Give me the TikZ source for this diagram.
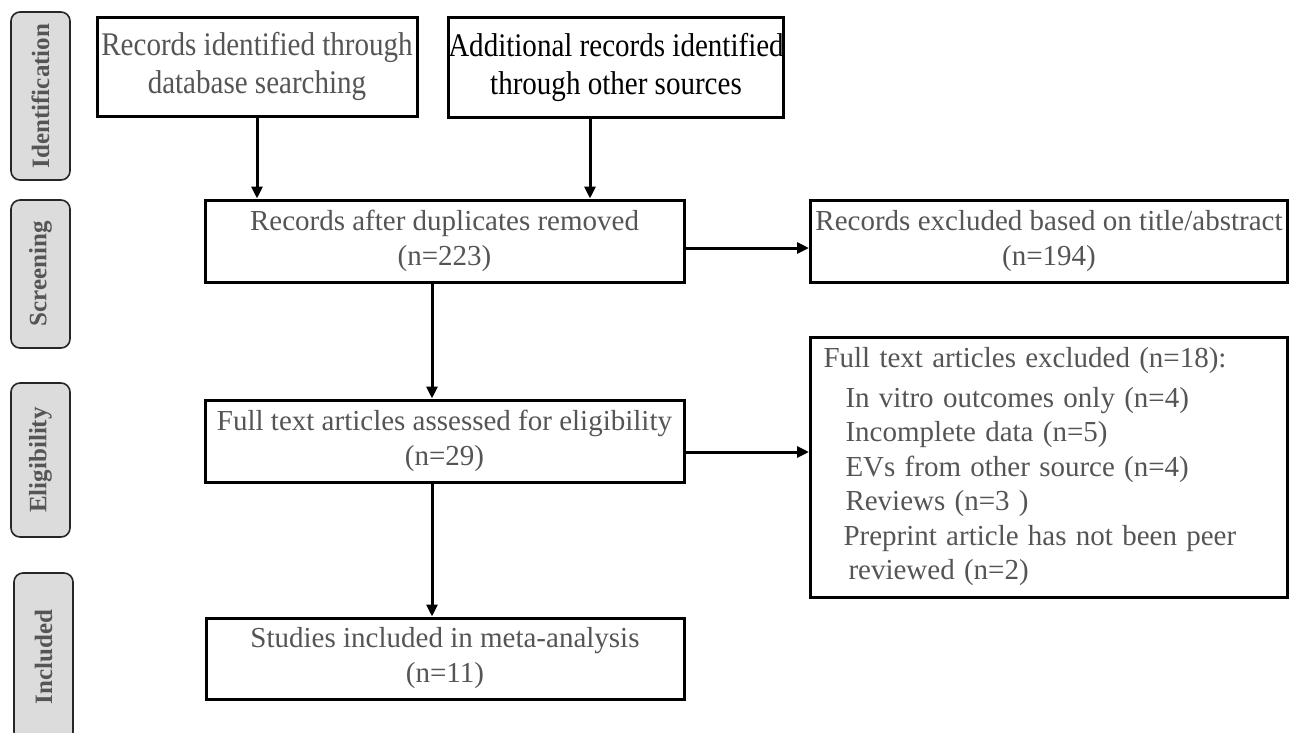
\documentclass[tikz,border=0pt]{standalone}
\usepackage{fontspec}
\setmainfont{Liberation Serif}
\newfontfamily\condfont[FakeStretch=0.88]{Liberation Serif}
\usetikzlibrary{arrows.meta}
\definecolor{txtgray}{HTML}{555555}
\definecolor{lblfill}{HTML}{DCDCDC}
\definecolor{lbltext}{HTML}{555555}
\tikzset{
  box/.style={draw=black, line width=3pt, rectangle, inner sep=0pt, align=center,
    font=\fontsize{29}{35}\selectfont, text=txtgray},
  topbox/.style={box, font=\condfont\fontsize{33}{38}\selectfont},
  lbl/.style={draw=black!85, line width=1.6pt, rounded corners=9pt, fill=lblfill, rotate=90,
    inner sep=0pt, font=\fontsize{25}{28}\selectfont\bfseries, text=lbltext},
  arr/.style={line width=3pt, -{Triangle[length=12pt,width=11pt]}},
}
\begin{document}
\begin{tikzpicture}[x=1pt,y=-1pt]
\useasboundingbox (0,0) rectangle (1290,732);
\fill[white] (0,0) rectangle (1290,732);
% side labels
\node[lbl, minimum width=168, minimum height=59] (lid) at (40.5,96) {Identification};
\node[lbl, minimum width=148, minimum height=59] (lsc) at (40.5,274) {Screening};
\node[lbl, minimum width=154, minimum height=59] (lel) at (40.5,460) {Eligibility};
\node[lbl, minimum width=168, minimum height=59] (lin) at (43.5,657) {Included};
% boxes
\node[topbox, minimum width=320, minimum height=99] (A) at (257,66.5) {Records identified through\\database searching};
\node[topbox, minimum width=332, minimum height=100, text=black] (B) at (616,67) {Additional records identified\\through other sources};
\node[box, minimum width=479, minimum height=82] (C) at (444.5,241) {Records after duplicates removed\\(n=223)};
\node[box, minimum width=477, minimum height=82] (D) at (1049,241) {Records excluded based on title/abstract\\(n=194)};
\node[box, minimum width=479, minimum height=82] (F) at (444.5,441) {Full text articles assessed for eligibility\\(n=29)};
\node[box, minimum width=477, minimum height=260, inner xsep=13pt, text width=451pt, align=left,
  font=\fontsize{29}{34.5}\selectfont] (E) at (1049,467)
  {\spaceskip=0.32em plus 0.1em\relax Full text articles excluded (n=18):\\[5pt]
   \hspace*{22pt}In vitro outcomes only (n=4)\\
   \hspace*{22pt}Incomplete data (n=5)\\
   \hspace*{22pt}EVs from other source (n=4)\\
   \hspace*{22pt}Reviews (n=3 )\\
   \hspace*{20pt}Preprint article has not been peer\\
   \hspace*{25pt}reviewed (n=2)};
\node[box, minimum width=478, minimum height=81] (G) at (445,658.5) {Studies included in meta-analysis\\(n=11)};
% connectors
\draw[arr] (A.south) -- (A.south |- C.north);
\draw[arr] ([xshift=-26pt]B.south) -- ([xshift=-26pt]B.south |- C.north);
\draw[arr] ([yshift=-7pt]C.east) -- ([yshift=-7pt]C.east -| D.west);
\draw[arr] ([xshift=-12.5pt]C.south) -- ([xshift=-12.5pt]C.south |- F.north);
\draw[arr] ([yshift=-11pt]F.east) -- ([yshift=-11pt]F.east -| E.west);
\draw[arr] ([xshift=-12.5pt]F.south) -- ([xshift=-12.5pt]F.south |- G.north);
\end{tikzpicture}
\end{document}
